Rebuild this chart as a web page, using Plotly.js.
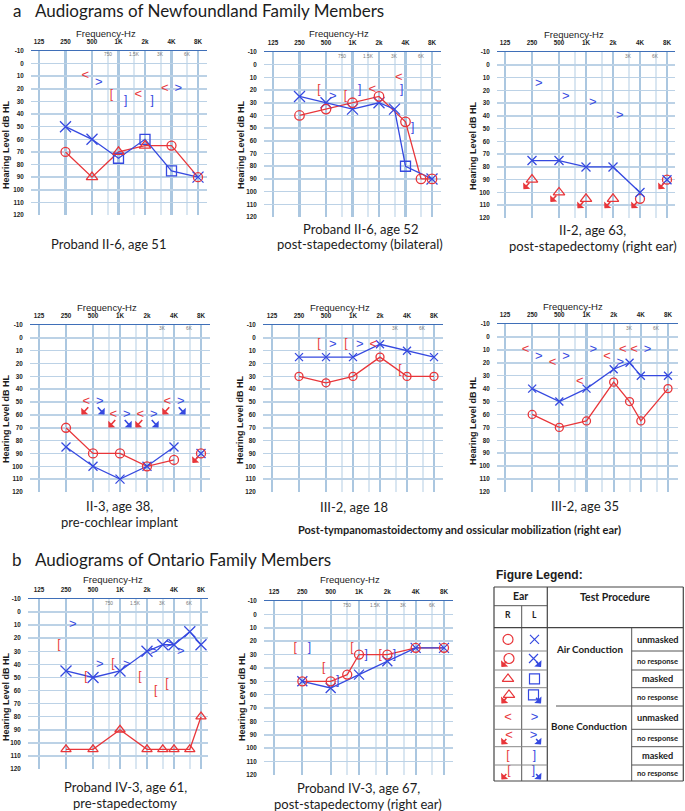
<!DOCTYPE html>
<html><head><meta charset="utf-8">
<script src="https://cdn.plot.ly/plotly-3.0.1.min.js"></script>
<style>html,body{margin:0;padding:0;background:#fff;}#chart{width:685px;height:811px;}</style>
</head><body><div id="chart"></div>
<script>
// ================= DATA =================
const FREQ_TICKS=[125,250,500,1000,2000,4000,8000];
const FREQ_LABELS=['125','250','500','1K','2k','4K','8K'];
const FREQ_MID=[750,1500,3000,6000];
const FREQ_MID_LABELS=['750','1.5K','3K','6K'];
const DB_TICKS=[-10,0,10,20,30,40,50,60,70,80,90,100,110,120];
const DB_LABELS=['-10','0','10','20','30','40','50','60','70','80','90','100','110','120'];

// Panel 1: Proband II-6, age 51
const p1_rO_f=[250,4000,8000], p1_rO_db=[70,65,90];
const p1_rT_f=[500,1000,2000], p1_rT_db=[90,70,65];
const p1_rLine_f=[250,500,1000,2000,4000,8000], p1_rLine_db=[70,90,70,65,65,90];
const p1_lX_f=[250,500,8000], p1_lX_db=[50,60,90];
const p1_lS_f=[1000,2000,4000], p1_lS_db=[75,60,85];
const p1_lLine_f=[250,500,1000,2000,4000,8000], p1_lLine_db=[50,60,75,60,85,90];
const p1_rB_f=[500,2000,4000], p1_rB_db=[10,25,20];
const p1_lB_f=[500,4000], p1_lB_db=[15,20];
const p1_rBm_f=[1000], p1_rBm_db=[25];
const p1_lBm_f=[1000,2000], p1_lBm_db=[30,30];

// Panel 2: Proband II-6, age 52
const p2_rO_f=[250,500,1000,2000,4000,6000,8000], p2_rO_db=[40,35,30,25,45,90,90];
const p2_lX_f=[250,500,1000,2000,3000,8000], p2_lX_db=[25,30,35,30,35,90];
const p2_lS_f=[4000], p2_lS_db=[80];
const p2_lLine_f=[250,500,1000,2000,3000,4000,8000], p2_lLine_db=[25,30,35,30,35,80,90];
const p2_rB_f=[2000,4000], p2_rB_db=[20,10];
const p2_lB_f=[500], p2_lB_db=[25];
const p2_rBm_f=[500,1000], p2_rBm_db=[20,25];
const p2_lBm_f=[1000,3000,4000], p2_lBm_db=[20,20,50];

// Panel 3: II-2, age 63
const p3_lB_f=[250,500,1000,2000], p3_lB_db=[15,25,30,40];
const p3_lX_f=[250,500,1000,2000,4000,8000], p3_lX_db=[75,75,80,80,100,90];
const p3_lLine_f=[250,500,1000,2000,4000], p3_lLine_db=[75,75,80,80,100];
const p3_rTnr_f=[250,500,1000,2000], p3_rTnr_db=[90,100,105,105];
const p3_rOnr_f=[4000,8000], p3_rOnr_db=[105,90];

// Panel 4: II-3, age 38
const p4_rO_f=[250,500,1000,2000,4000], p4_rO_db=[70,90,90,100,95];
const p4_rOnr_f=[8000], p4_rOnr_db=[90];
const p4_lX_f=[250,500,1000,2000,4000,8000], p4_lX_db=[85,100,110,100,85,90];
const p4_lLine_f=[250,500,1000,2000,4000], p4_lLine_db=[85,100,110,100,85];
const p4_rBnr_f=[500,1000,2000,4000], p4_rBnr_db=[50,60,60,50];
const p4_lBnr_f=[500,1000,2000,4000], p4_lBnr_db=[50,60,60,50];

// Panel 5: III-2, age 18
const p5_rO_f=[250,500,1000,2000,4000,8000], p5_rO_db=[30,35,30,15,30,30];
const p5_lX_f=[250,500,1000,2000,4000,8000], p5_lX_db=[15,15,15,5,10,15];
const p5_rBm_f=[500,1000,4000], p5_rBm_db=[5,5,25];
const p5_lB_f=[500,1000], p5_lB_db=[5,5];
const p5_rB_f=[2000], p5_rB_db=[5];

// Panel 6: III-2, age 35
const p6_rO_f=[250,500,1000,2000,3000,4000,8000], p6_rO_db=[60,70,65,35,50,65,40];
const p6_lX_f=[250,500,1000,2000,3000,4000,8000], p6_lX_db=[40,50,40,25,20,30,30];
const p6_rB_f=[250,500,1000,2000,3000,4000], p6_rB_db=[10,20,35,15,10,10];
const p6_lB_f=[250,500,1000,2000,4000], p6_lB_db=[15,15,10,20,10];

// Panel 7: Proband IV-3, age 61
const p7_rT_f=[250,500,1000,2000,3000,4000,6000,8000], p7_rT_db=[105,105,90,105,105,105,105,80];
const p7_lX_f=[250,500,1000,2000,3000,4000,6000,8000], p7_lX_db=[45,50,45,30,25,25,15,25];
const p7_lB_f=[250,500,1000,2000,3000,4000], p7_lB_db=[10,40,40,30,25,30];
const p7_rBm_f=[250,500,1000,2000,3000,4000], p7_rBm_db=[25,50,40,50,60,55];

// Panel 8: Proband IV-3, age 67
const p8_rO_f=[250,500,750,1000,2000,4000,8000], p8_rO_db=[50,50,45,30,30,25,25];
const p8_lX_f=[250,500,1000,2000,4000,8000], p8_lX_db=[50,55,45,35,25,25];
const p8_rBm_f=[250,500,1000,2000], p8_rBm_db=[25,40,25,30];
const p8_lBm_f=[250,500,1000,2000], p8_lBm_db=[25,50,30,30];

// Legend table content
const LEG_R_SYM=['circle-open','circle-open','triangle-up-open','triangle-up-open','<','<','[','['];
const LEG_L_SYM=['x-thin-open','x-thin-open','square-open','square-open','>','>',']',']'];
const LEG_NR=[0,1,0,1,0,1,0,1];
const LEG_SUB=['unmasked','no response','masked','no response','unmasked','no response','masked','no response'];

// ================= LAYOUT / DRAWING =================
const W=685,H=811,LOG2=Math.log10(2);
const RED='#e8363a', BLUE='#3549e0', TXT='#1c1c1c';
const traces=[], annotations=[], shapes=[];
const layout={width:W,height:H,margin:{l:0,r:0,t:0,b:0,pad:0},paper_bgcolor:'#ffffff',plot_bgcolor:'rgba(0,0,0,0)',
  showlegend:false,font:{family:'Liberation Sans',color:TXT},annotations,shapes,hovermode:false};
const fx=p=>p/W, fy=p=>1-p/H;
const sfx=i=>i===1?'':String(i);
const TICKFONT={family:'Liberation Sans',size:6.3,color:'#222',weight:'bold'};

const BOXES={
 1:{L:31,R:207,T:51,B:215,p125:39,p8k:198},
 2:{L:264,R:441,T:52,B:217,p125:273,p8k:432},
 3:{L:497,R:675,T:52,B:218,p125:505,p8k:667},
 4:{L:30,R:210,T:325,B:492,p125:39,p8k:201},
 5:{L:263,R:443,T:325,B:492,p125:272,p8k:434},
 6:{L:497,R:678,T:324,B:492,p125:505,p8k:668},
 7:{L:28,R:208,T:599,B:769,p125:39,p8k:201},
 8:{L:264,R:453,T:601,B:775,p125:274,p8k:444}
};

function txt(x,y,text,size,o){
  o=o||{};
  annotations.push({xref:'paper',yref:'paper',x:fx(x),y:fy(y),text,showarrow:false,
    xanchor:o.xa||'center',yanchor:'middle',textangle:o.ang||0,
    font:{family:o.fam||'Lato',size,color:o.color||TXT,weight:o.w||'normal'}});
}

function axes(i,midLabels){
  const b=BOXES[i], s=sfx(i);
  const w=(b.p8k-b.p125)/6;
  const lo=Math.log10(125)-(b.p125-b.L)/w*LOG2;
  const hi=Math.log10(8000)+(b.R-b.p8k)/w*LOG2;
  layout['xaxis'+s]={domain:[fx(b.L),fx(b.R)],anchor:'y'+s,type:'log',range:[lo,hi],side:'top',
    tickmode:'array',tickvals:FREQ_TICKS,ticktext:FREQ_LABELS,showgrid:true,gridcolor:'#abc7e0',gridwidth:2.3,
    minor:{tickmode:'array',tickvals:FREQ_MID,showgrid:true,gridcolor:'#d9e6f1',gridwidth:2,ticks:''},
    showline:true,linecolor:'#3f6fb8',linewidth:1.5,ticks:'outside',ticklen:3,tickcolor:'rgba(0,0,0,0)',
    tickfont:TICKFONT,zeroline:false,fixedrange:true};
  layout['yaxis'+s]={domain:[fy(b.B),fy(b.T)],anchor:'x'+s,range:[120,-10],tickmode:'array',
    tickvals:DB_TICKS,ticktext:DB_LABELS,showgrid:true,gridcolor:'#bcd2e6',gridwidth:1.6,zeroline:false,
    showline:false,ticks:'outside',ticklen:5,tickcolor:'rgba(0,0,0,0)',tickfont:TICKFONT,fixedrange:true};
  FREQ_MID.forEach((f,k)=>{
    if(!midLabels && k<2) return;
    annotations.push({xref:'x'+s,yref:'paper',x:Math.log10(f),y:fy(b.T+4),text:FREQ_MID_LABELS[k],showarrow:false,
      xanchor:'center',yanchor:'middle',font:{family:'Liberation Sans',size:4.8,color:'#777'}});
  });
}

function line(i,f,db,color){
  const s=sfx(i);
  traces.push({type:'scatter',mode:'lines',x:f,y:db,xaxis:'x'+s,yaxis:'y'+s,line:{color,width:1.3},hoverinfo:'skip'});
}
function mark(i,f,db,symbol,color,size){
  const s=sfx(i);
  traces.push({type:'scatter',mode:'markers',x:f,y:db,xaxis:'x'+s,yaxis:'y'+s,hoverinfo:'skip',
    marker:{symbol,size,color,line:{color,width:1.3}}});
}
// bone-conduction glyphs: text beside the frequency line (right ear left, left ear right)
function glyph(i,f,db,ch,color,side,size){
  const s=sfx(i);
  const isBr=(ch==='['||ch===']');
  traces.push({type:'scatter',mode:'markers+text',x:f,y:db,xaxis:'x'+s,yaxis:'y'+s,hoverinfo:'skip',
    marker:{size:isBr?7:3,opacity:0,color},
    text:f.map(()=>ch),textposition:side==='L'?'middle left':'middle right',
    textfont:{family:'Liberation Sans',size:size||(isBr?12:13),color}});
}
function arrows(i,f,db,color,dir,len,stand){
  const s=sfx(i), L=len||9;
  f.forEach((v,k)=>annotations.push({xref:'x'+s,yref:'y'+s,x:Math.log10(v),y:db[k],text:'',showarrow:true,
    font:{size:1},borderpad:0,
    arrowside:'start',arrowhead:2,arrowsize:0.7,arrowwidth:1.6,arrowcolor:color,
    ax:dir*L,ay:L+1,standoff:stand||4}));
}

// ---- Panel 1
axes(1,true);
line(1,p1_rLine_f,p1_rLine_db,RED); line(1,p1_lLine_f,p1_lLine_db,BLUE);
mark(1,p1_lX_f,p1_lX_db,'x-thin-open',BLUE,11);
mark(1,p1_lS_f,p1_lS_db,'square-open',BLUE,10);
mark(1,p1_rO_f,p1_rO_db,'circle-open',RED,9);
mark(1,p1_rT_f,p1_rT_db,'triangle-up-open',RED,10);
glyph(1,p1_rB_f,p1_rB_db,'<',RED,'L'); glyph(1,p1_lB_f,p1_lB_db,'>',BLUE,'R');
glyph(1,p1_rBm_f,p1_rBm_db,'[',RED,'L'); glyph(1,p1_lBm_f,p1_lBm_db,']',BLUE,'R');

// ---- Panel 2
axes(2,true);
line(2,p2_rO_f,p2_rO_db,RED); line(2,p2_lLine_f,p2_lLine_db,BLUE);
mark(2,p2_lX_f,p2_lX_db,'x-thin-open',BLUE,11);
mark(2,p2_lS_f,p2_lS_db,'square-open',BLUE,10);
mark(2,p2_rO_f,p2_rO_db,'circle-open',RED,9.5);
glyph(2,p2_rB_f,p2_rB_db,'<',RED,'L'); glyph(2,p2_lB_f,p2_lB_db,'>',BLUE,'R');
glyph(2,p2_rBm_f,p2_rBm_db,'[',RED,'L'); glyph(2,p2_lBm_f,p2_lBm_db,']',BLUE,'R');

// ---- Panel 3
axes(3,false);
line(3,p3_lLine_f,p3_lLine_db,BLUE);
glyph(3,p3_lB_f,p3_lB_db,'>',BLUE,'R');
mark(3,p3_rTnr_f,p3_rTnr_db,'triangle-up-open',RED,10);
mark(3,p3_rOnr_f,p3_rOnr_db,'circle-open',RED,9);
mark(3,p3_lX_f,p3_lX_db,'x-thin-open',BLUE,9);
arrows(3,p3_rTnr_f,p3_rTnr_db,RED,-1,9,4);
arrows(3,p3_rOnr_f,p3_rOnr_db,RED,-1,9,4);

// ---- Panel 4
axes(4,false);
line(4,p4_rO_f,p4_rO_db,RED); line(4,p4_lLine_f,p4_lLine_db,BLUE);
mark(4,p4_lX_f,p4_lX_db,'x-thin-open',BLUE,9);
mark(4,p4_rO_f,p4_rO_db,'circle-open',RED,9);
mark(4,p4_rOnr_f,p4_rOnr_db,'circle-open',RED,9);
arrows(4,p4_rOnr_f,p4_rOnr_db,RED,-1,9,4);
glyph(4,p4_rBnr_f,p4_rBnr_db,'<',RED,'L'); glyph(4,p4_lBnr_f,p4_lBnr_db,'>',BLUE,'R');
arrows(4,p4_rBnr_f,p4_rBnr_db,RED,-1,12,7);
arrows(4,p4_lBnr_f,p4_lBnr_db,BLUE,1,12,7);

// ---- Panel 5
axes(5,false);
line(5,p5_rO_f,p5_rO_db,RED); line(5,p5_lX_f,p5_lX_db,BLUE);
mark(5,p5_lX_f,p5_lX_db,'x-thin-open',BLUE,8);
mark(5,p5_rO_f,p5_rO_db,'circle-open',RED,8);
glyph(5,p5_rBm_f,p5_rBm_db,'[',RED,'L'); glyph(5,p5_lB_f,p5_lB_db,'>',BLUE,'R'); glyph(5,p5_rB_f,p5_rB_db,'<',RED,'L');

// ---- Panel 6
axes(6,false);
line(6,p6_rO_f,p6_rO_db,RED); line(6,p6_lX_f,p6_lX_db,BLUE);
mark(6,p6_lX_f,p6_lX_db,'x-thin-open',BLUE,8);
mark(6,p6_rO_f,p6_rO_db,'circle-open',RED,8);
glyph(6,p6_rB_f,p6_rB_db,'<',RED,'L'); glyph(6,p6_lB_f,p6_lB_db,'>',BLUE,'R');

// ---- Panel 7
axes(7,true);
line(7,p7_rT_f,p7_rT_db,RED); line(7,p7_lX_f,p7_lX_db,BLUE);
mark(7,p7_lX_f,p7_lX_db,'x-thin-open',BLUE,11);
mark(7,p7_rT_f,p7_rT_db,'triangle-up-open',RED,9);
glyph(7,p7_lB_f,p7_lB_db,'>',BLUE,'R'); glyph(7,p7_rBm_f,p7_rBm_db,'[',RED,'L');

// ---- Panel 8
axes(8,true);
line(8,p8_rO_f,p8_rO_db,RED); line(8,p8_lX_f,p8_lX_db,BLUE);
mark(8,p8_lX_f,p8_lX_db,'x-thin-open',BLUE,10);
mark(8,p8_rO_f,p8_rO_db,'circle-open',RED,9);
glyph(8,p8_rBm_f,p8_rBm_db,'[',RED,'L'); glyph(8,p8_lBm_f,p8_lBm_db,']',BLUE,'R');

// ---- Axis titles & captions
const FREQ_TITLE_POS=[[106,33],[339,33],[574,34],[107,307],[340,307],[573,306],[113,579],[350,579]];
const YTITLE_POS=[[6,145],[241,145],[473,145],[6,419],[240,420],[473,420],[6,697],[242,697]];
FREQ_TITLE_POS.forEach(p=>txt(p[0],p[1],'Frequency-Hz',9.5,{fam:'Liberation Sans'}));
YTITLE_POS.forEach(p=>txt(p[0],p[1],'Hearing Level dB HL',9,{fam:'Liberation Sans',w:'bold',ang:-90}));

txt(17,10,'a',17); txt(33,10,'Audiograms of Newfoundland Family Members',17,{xa:'left'});
txt(17,559,'b',17); txt(33,559,'Audiograms of Ontario Family Members',17,{xa:'left'});

const CAP=13;
txt(108,244,'Proband II-6, age 51',CAP);
txt(360,228.5,'Proband II-6, age 52',CAP); txt(360,244.5,'post-stapedectomy (bilateral)',CAP);
txt(592,229.5,'II-2, age 63,',CAP); txt(593,245.5,'post-stapedectomy (right ear)',CAP);
txt(119,506,'II-3, age 38,',CAP); txt(119,522,'pre-cochlear implant',CAP);
txt(354,507,'III-2, age 18',CAP);
txt(585,506,'III-2, age 35',CAP);
txt(460,529,'Post-tympanomastoidectomy and ossicular mobilization (right ear)',11,{w:'bold'});
txt(125,787,'Proband IV-3, age 61,',CAP); txt(125,803,'pre-stapedectomy',CAP);
txt(358,788,'Proband IV-3, age 67,',CAP); txt(358,804,'post-stapedectomy (right ear)',CAP);

// ---- Legend table
const TB={L:494,M1:521.7,M2:547.3,M3:631.7,R:683.3,T:587,H1:605.7,H2:627.7,B:781,
  rows:[651,670,687.7,706,729.3,746.7,765]};
const ROWC=[639.4,660.5,678.9,696.9,717.7,738,755.9,773];
function seg(x0,y0,x1,y1,c,w){shapes.push({type:'line',xref:'paper',yref:'paper',x0:fx(x0),y0:fy(y0),x1:fx(x1),y1:fy(y1),line:{color:c||'#555',width:w||1}});}
seg(TB.L,TB.T,TB.R,TB.T,'#444',1.2); seg(TB.L,TB.B,TB.R,TB.B,'#444',1.2);
seg(TB.L,TB.T,TB.L,TB.B,'#444',1.2); seg(TB.R,TB.T,TB.R,TB.B,'#444',1.2);
seg(TB.M2,TB.T,TB.M2,TB.B,'#444',1.2);
seg(TB.M1,TB.H1,TB.M1,TB.B,'#555');
seg(TB.M3,TB.H2,TB.M3,TB.B,'#555');
seg(TB.L,TB.H1,TB.M2,TB.H1,'#555');
seg(TB.L,TB.H2,TB.R,TB.H2,'#444',1.2);
TB.rows.forEach(y=>{seg(TB.L,y,TB.M2,y,'#888'); seg(TB.M3,y,TB.R,y,'#555');});
seg(556,706,TB.M3,706,'#555');

layout.xaxis9={domain:[fx(TB.L),fx(TB.R)],range:[TB.L,TB.R],visible:false,fixedrange:true,anchor:'y9'};
layout.yaxis9={domain:[fy(TB.B),fy(TB.T)],range:[TB.B,TB.T],visible:false,fixedrange:true,anchor:'x9'};
const XR=508, XL=534.5;
function legSym(x,y,sym,color){
  if(sym.length===1){
    traces.push({type:'scatter',mode:'text',x:[x],y:[y],xaxis:'x9',yaxis:'y9',text:[sym],textposition:'middle center',
      textfont:{family:'Liberation Sans',size:sym==='['||sym===']'?12:13,color},hoverinfo:'skip'});
  } else {
    traces.push({type:'scatter',mode:'markers',x:[x],y:[y],xaxis:'x9',yaxis:'y9',hoverinfo:'skip',
      marker:{symbol:sym,size:sym==='x-thin-open'?9:10,color,line:{color,width:1.2}}});
  }
}
LEG_R_SYM.forEach((sym,k)=>{
  const nr=LEG_NR[k];
  const yr=ROWC[k]-(nr?2:0);
  legSym(XR+(nr?1:0),yr,sym,RED);
  legSym(XL-(nr?1:0),yr,LEG_L_SYM[k],BLUE);
  if(nr){
    annotations.push({xref:'x9',yref:'y9',x:XR+1,y:yr,text:'',showarrow:true,font:{size:1},borderpad:0,
      arrowside:'start',arrowhead:2,arrowsize:0.7,arrowwidth:1.6,arrowcolor:RED,ax:-8,ay:9,standoff:4});
    annotations.push({xref:'x9',yref:'y9',x:XL-1,y:yr,text:'',showarrow:true,font:{size:1},borderpad:0,
      arrowside:'start',arrowhead:2,arrowsize:0.7,arrowwidth:1.6,arrowcolor:BLUE,ax:8,ay:9,standoff:4});
  }
  txt((TB.M3+TB.R)/2,ROWC[k],LEG_SUB[k],LEG_SUB[k]==='no response'?7.6:9.2,{w:'bold'});
});
txt(539,575,'Figure Legend:',12,{fam:'Liberation Sans',w:'bold'});
txt(520.6,596,'Ear',10.5,{w:'bold'});
txt(615,597,'Test Procedure',10.5,{w:'bold'});
txt(508,615,'R',8.5,{w:'bold'}); txt(534.5,615,'L',8.5,{w:'bold'});
txt(589,649,'Air Conduction',9.8,{w:'bold'});
txt(589,726,'Bone Conduction',9.8,{w:'bold'});

Plotly.newPlot('chart',traces,layout,{staticPlot:true,displayModeBar:false});
</script></body></html>
